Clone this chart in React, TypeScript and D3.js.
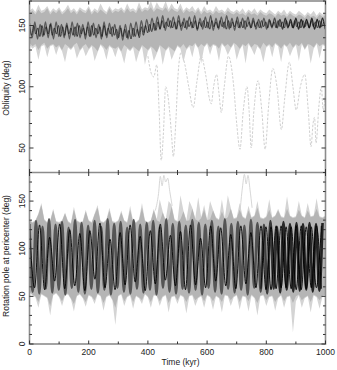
import React from "react";
import * as d3 from "d3";

// ---------- data ----------
const xTickLabels = [0, 200, 400, 600, 800, 1000];
const topTickLabels = [50, 100, 150];
const botTickLabels = [0, 50, 100, 150];

// band envelopes, sampled every 10 kyr (0..1000)
const topLightUpper = [
  162,164,161,167,162,163,166,161,164,162, 165,161,163,167,162,164,161,165,163,162,
  166,161,164,162,168,163,161,166,162,164, 163,165,162,168,163,164,162,169,163,165,
  164,170,163,169,165,164,170,163,168,164, 163,168,162,165,163,166,162,165,161,166,
  162,163,161,166,162,163,161,165,162,161, 163,161,164,160,163,161,164,160,163,161,
  160,163,161,159,162,160,163,159,162,160, 159,162,160,158,161,159,162,158,161,159, 160];
const topLightLower = [
  134,131,133,122,133,134,124,133,134,126, 133,129,120,132,130,133,123,129,132,125,
  130,133,121,128,134,131,122,133,131,124, 132,128,119,131,129,132,120,128,133,118,
  129,132,121,127,133,118,129,132,122,128, 133,131,120,130,133,124,135,131,119,132,
  135,126,134,133,121,135,132,126,131,135, 122,130,134,119,135,131,126,133,130,120,
  132,134,124,135,133,120,134,132,125,131, 134,121,135,130,134,119,131,135,123,134, 133];
const topMedUpper = [
  160,162,159,163,160,161,164,159,162,160, 163,159,161,164,160,162,159,163,161,160,
  164,159,162,160,163,161,159,164,160,162, 161,163,160,164,161,162,160,165,161,163,
  162,165,161,164,163,162,165,161,164,162, 161,164,160,163,161,162,160,163,159,162,
  160,161,159,162,160,161,159,162,160,159, 161,159,160,158,161,159,160,158,161,159,
  158,160,159,157,160,158,159,157,160,158, 157,159,158,156,159,157,158,156,159,157, 158];
const topMedLower = [
  136,133,135,130,134,136,131,134,135,132, 134,130,135,133,131,134,136,130,133,135,
  131,134,132,129,135,133,130,134,132,131, 133,129,134,132,130,133,131,129,134,132,
  130,133,131,128,134,132,130,133,131,129, 134,132,135,131,134,133,136,132,135,133,
  136,132,135,134,131,136,133,135,132,136, 134,131,135,133,136,132,135,134,131,136,
  133,135,132,136,134,131,135,133,136,132, 135,133,136,131,135,134,132,136,133,135, 134];

const botLightUpper = [
  131,128,130,137,148,131,128,130,142,129, 128,130,138,129,127,144,130,128,129,141,
  130,128,137,146,129,128,131,143,129,128, 130,140,130,128,145,129,128,131,148,130,
  128,130,142,131,152,139,130,150,146,131, 129,156,140,130,150,143,132,154,133,146,
  131,150,141,133,131,152,132,156,143,132, 133,148,134,132,145,133,135,150,133,132,
  134,152,133,135,142,134,133,155,135,133, 134,150,135,133,148,134,135,153,134,133, 135];
const botLightLower = [
  54,51,49,38,52,50,48,30,51,53, 49,40,51,52,47,34,50,52,48,39,
  51,49,42,52,50,35,49,51,46,20, 50,52,40,49,51,37,50,48,42,52,
  49,38,51,50,40,49,51,33,49,50, 42,51,49,32,50,51,40,48,50,38,
  51,49,36,50,48,33,51,50,40,49, 51,36,50,49,34,51,48,30,50,51,
  40,49,50,35,48,51,38,49,50,12, 45,51,38,48,50,33,51,49,37,50, 51];
const botMedUpper = [
  130,127,129,136,146,130,127,129,140,128, 127,129,137,128,126,141,129,127,128,139,
  129,127,136,143,128,127,130,140,128,127, 129,138,129,127,141,128,127,130,143,129,
  127,129,140,130,128,138,129,131,144,130, 128,131,139,129,130,142,131,129,132,141,
  130,131,140,132,130,139,131,133,142,131, 132,141,133,131,140,132,134,143,132,131,
  133,141,132,134,140,133,132,142,134,132, 133,141,134,132,140,133,134,142,133,132, 134];
const botMedLower = [
  55,52,50,44,53,51,49,40,52,54, 50,45,52,53,48,42,51,53,49,44,
  52,50,46,53,51,43,50,52,47,38, 51,53,45,50,52,44,51,49,46,53,
  50,44,52,51,45,50,52,43,50,51, 46,52,50,44,51,52,46,49,51,45,
  52,50,45,51,49,44,52,51,46,50, 52,44,51,50,45,52,49,43,51,52,
  46,50,51,44,49,52,45,50,51,43, 50,52,46,49,51,44,52,50,46,51, 52];

// oscillating runs: alternating extremes
const topBlack = [
  149,142,150,143,148,141,150,142,149,143,151,142,148,143,150,141,149,142,150,143,
  148,142,149,141,150,143,148,142,149,141,150,142,148,143,149,141,150,142,148,143,
  149,142,147,140,
  148,141,147,140,146,139,148,141,147,140,
  149,142,150,144,151,145,152,146,
  153,147,154,148,153,149,154,148,153,147,154,149,153,148,154,149,153,148,154,147,
  153,149,154,148,153,147,154,149,153,148,154,149,153,147,154,148,153,149,154,148,
  153,148,154,149,153,148,154,149,153,148,154,149,153,148,154,149,153,148,154,149,
  153,148,154,149,153,148,154,149,153,148,154,149,153,148,154,149,153,148,154,149,
  153];
const topDark = [
  152,140,153,139,151,141,153,140,152,139,153,141,151,140,152,139,153,141,152,140,
  151,139,153,141,152,140,151,139,
  153,140,152,141,151,139,
  150,138,151,139,152,141,153,142,154,144,155,145,
  156,146,157,147,158,146,156,148,157,147,158,146,156,147,157,148,158,146,156,147,
  157,148,158,146,156,147,157,148,158,147,156,146,157,148,156,147,157,148,156,147,
  155,148,156,147,155,148,156,148,155,147,156,148,155,148,156,147,155,148,155,148,
  156,147,155,148,156,147];
// bottom panel: black run (every 17 kyr), second black run from 782 kyr, dark run (every 11 kyr)
const botBlack = [
  121,59,125,57,112,66,126,58,120,61, 116,56,119,68,127,59,110,57,117,62,
  125,65,113,56,119,63,126,67,114,61, 118,57,125,62,111,59,124,66,122,61,
  115,58,124,63,117,59,124,57,123,58, 124,59,123,57,124,58,123,59,124];
const botBlack2 = [58,123,57,124,59,123,58,124,57,123,59,124,58];
const botDark = [
  126,55,129,53,123,58,131,54,125,57, 128,52,122,59,130,55,127,53,124,58,
  129,54,123,57,131,52,126,59,128,55, 122,53,130,58,125,54,127,57,129,52,
  123,59,131,55,126,53,128,58,124,54, 130,57,127,52,125,59,129,55,123,53,
  131,58,126,54,128,57,124,52,130,59, 127,55,125,53,129,58,123,54,128,57,
  126,55,127,56,126,57,127,55,126,56, 127];

// excursions of individual runs: [time kyr, value deg]
const topOutlier: [number, number][] = [
  [400,125],[410,112],[420,108],[430,118],[438,80],[445,40],[452,60],[460,100],[468,92],[474,78],
  [480,60],[486,43],[494,70],[502,110],[512,128],[525,118],[538,100],[553,83],[566,105],[580,125],
  [595,110],[608,90],[614,86],[622,100],[632,110],[640,95],[648,79],[658,100],[672,125],[690,100],
  [700,70],[711,49],[722,80],[735,100],[742,80],[749,50],[758,80],[772,105],[785,80],[796,49],
  [808,85],[822,115],[836,100],[851,65],[862,90],[878,120],[890,100],[901,81],[915,100],[930,110],
  [942,80],[951,51],[958,70],[963,75],[968,54],[978,85],[986,100],[992,81],[1000,95]];
const botOutlierA: [number, number][] = [
  [425,140],[436,158],[442,176],[448,166],[454,177],[460,170],[467,174],[474,160],[482,145]];
const botOutlierB: [number, number][] = [
  [712,142],[720,166],[726,178],[732,168],[738,177],[745,162],[752,143]];

// ---------- chart ----------
export default function App() {
  const W = 337, H = 370;
  const L = 29.5, R = 325.5, T = 1, M = 172.5, B = 344;
  const x = d3.scaleLinear().domain([0, 1000]).range([L, R]);
  const yT = d3.scaleLinear().domain([30, 170]).range([M, T]);
  const yB = d3.scaleLinear().domain([0, 180]).range([B, M]);
  const bandT = d3.range(0, 1001, 10);

  const area = (y: any, lo: number[], hi: number[]) =>
    d3.area<number>().x((d, i) => x(bandT[i])).y0((d, i) => y(lo[i])).y1((d, i) => y(hi[i]))(lo) || "";
  const osc = (y: any, vals: number[], step: number, start = 0) =>
    d3.line<number>().curve(d3.curveMonotoneX).x((d, i) => x(start + i * step)).y((d) => y(d))(vals) || "";
  const pts = (y: any, p: [number, number][]) =>
    d3.line<[number, number]>().curve(d3.curveMonotoneX).x((d) => x(d[0])).y((d) => y(d[1]))(p) || "";

  const font = "'Liberation Sans', Arial, sans-serif";
  const tickCol = "#333";
  const frameCol = "#8c8c8c";
  const xMinor = d3.range(0, 1001, 100);
  const topMinor = d3.range(30, 171, 10);
  const botMinor = d3.range(0, 181, 10);

  return (
    <div style={{ position: "absolute", left: 0, top: 0 }}>
      <svg width={W} height={H} style={{ display: "block", background: "#fff" }}>
        <defs>
          <clipPath id="cT"><rect x={L} y={T} width={R - L} height={M - T} /></clipPath>
          <clipPath id="cB"><rect x={L} y={M} width={R - L} height={B - M} /></clipPath>
          <linearGradient id="gB" gradientUnits="userSpaceOnUse" x1={x(0)} x2={x(1000)} y1={0} y2={0}>
            <stop offset="0" stopColor="#555" />
            <stop offset="0.76" stopColor="#555" />
            <stop offset="0.84" stopColor="#2a2a2a" />
            <stop offset="1" stopColor="#222" />
          </linearGradient>
          <linearGradient id="gT" gradientUnits="userSpaceOnUse" x1={x(0)} x2={x(1000)} y1={0} y2={0}>
            <stop offset="0" stopColor="#5a5a5a" />
            <stop offset="0.8" stopColor="#5a5a5a" />
            <stop offset="0.88" stopColor="#2e2e2e" />
            <stop offset="1" stopColor="#262626" />
          </linearGradient>
        </defs>

        <g clipPath="url(#cT)">
          <path d={pts(yT, topOutlier)} fill="none" stroke="#c9c9c9" strokeWidth={0.9} strokeDasharray="2.5,1.5" />
          <path d={area(yT, topLightLower, topLightUpper)} fill="#d4d4d4" />
          <path d={area(yT, topMedLower, topMedUpper)} fill="#b5b5b5" />
          <path d={osc(yT, topDark, 9)} fill="none" stroke="url(#gT)" strokeWidth={1.3} />
          <path d={osc(yT, topBlack, 7)} fill="none" stroke="#111" strokeWidth={0.7} />
        </g>

        <g clipPath="url(#cB)">
          <path d={area(yB, botLightLower, botLightUpper)} fill="#d4d4d4" />
          <path d={pts(yB, botOutlierA)} fill="none" stroke="#d2d2d2" strokeWidth={0.9} />
          <path d={pts(yB, botOutlierB)} fill="none" stroke="#d2d2d2" strokeWidth={0.9} />
          <path d={area(yB, botMedLower, botMedUpper)} fill="#b5b5b5" />
          <path d={osc(yB, botDark, 11)} fill="none" stroke="url(#gB)" strokeWidth={2.6} />
          <path d={osc(yB, botBlack, 17)} fill="none" stroke="#000" strokeWidth={0.9} />
          <path d={osc(yB, botBlack2, 17, 782)} fill="none" stroke="#000" strokeWidth={0.9} />
        </g>

        {/* frames */}
        <rect x={L} y={T} width={R - L} height={B - T} fill="none" stroke={frameCol} strokeWidth={1.6} />
        <line x1={L} x2={R} y1={M} y2={M} stroke={frameCol} strokeWidth={1.6} />

        {/* x ticks */}
        {xMinor.map((v) => {
          const len = v % 200 === 0 ? 3.5 : 2.5;
          return (
            <g key={"xt" + v} stroke={tickCol} strokeWidth={1}>
              <line x1={x(v)} x2={x(v)} y1={B} y2={B - len} />
              <line x1={x(v)} x2={x(v)} y1={T} y2={T + len} />
              <line x1={x(v)} x2={x(v)} y1={M - len} y2={M + len} />
            </g>
          );
        })}
        {/* y ticks */}
        {topMinor.map((v) => {
          const len = v % 50 === 0 ? 4 : 2.5;
          return (
            <g key={"yt" + v} stroke={tickCol} strokeWidth={1}>
              <line x1={L} x2={L + len} y1={yT(v)} y2={yT(v)} />
              <line x1={R} x2={R - len} y1={yT(v)} y2={yT(v)} />
            </g>
          );
        })}
        {botMinor.map((v) => {
          const len = v % 50 === 0 ? 4 : 2.5;
          return (
            <g key={"yb" + v} stroke={tickCol} strokeWidth={1}>
              <line x1={L} x2={L + len} y1={yB(v)} y2={yB(v)} />
              <line x1={R} x2={R - len} y1={yB(v)} y2={yB(v)} />
            </g>
          );
        })}

        {/* tick labels */}
        <g fontFamily={font} fontSize={8.5} fill="#222">
          {xTickLabels.map((v) => (
            <text key={"xl" + v} x={x(v)} y={355} textAnchor="middle">{v}</text>
          ))}
          {topTickLabels.map((v) => (
            <text key={"tl" + v} transform={`translate(24.5,${yT(v)}) rotate(-90)`} textAnchor="middle">{v}</text>
          ))}
          {botTickLabels.map((v) => (
            <text key={"bl" + v} transform={`translate(24.5,${yB(v)}) rotate(-90)`} textAnchor="middle">{v}</text>
          ))}
        </g>

        {/* axis titles */}
        <g fontFamily={font} fontSize={8.5} fill="#222">
          <text x={(L + R) / 2 + 3} y={365} textAnchor="middle">Time (kyr)</text>
          <text transform={`translate(9,${88}) rotate(-90)`} textAnchor="middle">Obliquity (deg)</text>
          <text transform={`translate(9,${256}) rotate(-90)`} textAnchor="middle">Rotation pole at pericenter (deg)</text>
        </g>
      </svg>
    </div>
  );
}
